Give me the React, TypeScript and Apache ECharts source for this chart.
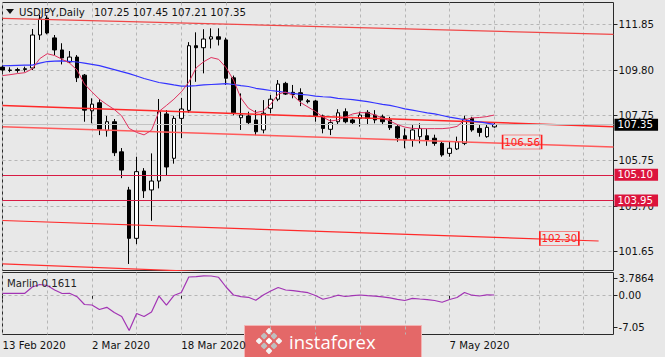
import { useEffect, useRef } from "react";
import * as echarts from "echarts";

// ---------- data ----------
const dates = [
  "2020-02-13","2020-02-14","2020-02-17","2020-02-18","2020-02-19","2020-02-20","2020-02-21","2020-02-24","2020-02-25","2020-02-26","2020-02-27","2020-02-28",
  "2020-03-02","2020-03-03","2020-03-04","2020-03-05","2020-03-06","2020-03-09","2020-03-10","2020-03-11","2020-03-12","2020-03-13","2020-03-16","2020-03-17","2020-03-18","2020-03-19","2020-03-20","2020-03-23","2020-03-24","2020-03-25","2020-03-26","2020-03-27","2020-03-30","2020-03-31",
  "2020-04-01","2020-04-02","2020-04-03","2020-04-06","2020-04-07","2020-04-08","2020-04-09","2020-04-10","2020-04-13","2020-04-14","2020-04-15","2020-04-16","2020-04-17","2020-04-20","2020-04-21","2020-04-22","2020-04-23","2020-04-24","2020-04-27","2020-04-28","2020-04-29","2020-04-30",
  "2020-05-01","2020-05-04","2020-05-05","2020-05-06","2020-05-07","2020-05-08","2020-05-11","2020-05-12","2020-05-13","2020-05-14","2020-05-15",
];
const futureDates = [
  "2020-05-18","2020-05-19","2020-05-20","2020-05-21","2020-05-22","2020-05-25","2020-05-26","2020-05-27","2020-05-28","2020-05-29",
  "2020-06-01","2020-06-02","2020-06-03","2020-06-04","2020-06-05","2020-06-08",
];
const labelDates = ["2020-02-13", "2020-03-02", "2020-03-18", "2020-05-07"];

const opens = [
  109.93,109.80,109.78,109.82,109.89,111.37,112.13,111.24,110.70,110.16,110.38,109.57,
  107.97,108.33,107.08,107.48,106.13,104.42,102.25,105.27,104.42,104.82,107.83,105.84,107.63,107.99,110.89,110.80,111.19,111.29,111.15,109.45,107.66,107.74,
  107.56,107.11,108.08,108.49,109.20,108.80,108.78,108.42,108.41,107.74,107.14,107.48,107.93,107.56,107.63,107.90,107.78,107.70,107.56,107.26,106.85,106.66,
  106.81,106.85,106.74,106.51,106.06,106.26,106.51,107.63,107.18,106.81,107.25,
];
const highs = [
  110.00,109.92,109.90,109.95,111.64,112.27,112.25,111.37,111.00,110.65,110.47,109.62,
  108.53,108.50,107.74,107.60,106.30,104.56,105.91,105.40,106.06,108.50,108.00,107.74,108.55,111.05,111.49,111.63,111.67,111.67,111.25,109.55,108.75,107.93,
  108.00,108.45,108.68,109.35,109.27,109.13,108.98,108.50,108.45,107.80,107.59,108.04,108.08,107.62,107.93,108.00,108.00,107.80,107.70,107.33,107.18,107.33,
  107.41,107.15,106.90,106.60,106.58,106.81,107.75,107.70,107.33,107.36,107.45,
];
const lows = [
  109.72,109.70,109.68,109.72,109.80,111.15,111.40,110.47,110.05,110.11,109.26,107.48,
  107.41,106.88,106.81,105.94,104.95,101.10,101.99,104.06,103.04,104.49,105.09,105.60,106.74,107.88,109.27,109.65,110.77,110.90,109.13,107.77,107.11,107.33,
  106.88,106.96,107.86,108.40,108.68,108.53,108.18,108.30,107.48,106.96,106.88,107.33,107.41,107.37,107.26,107.33,107.41,107.33,107.11,106.58,106.29,106.36,
  106.51,106.40,106.40,105.91,105.91,106.21,106.43,107.03,106.81,106.76,107.21,
];
const closes = [
  109.80,109.78,109.82,109.86,111.37,112.09,111.46,110.70,110.34,110.38,109.45,108.00,
  108.27,107.14,107.48,106.09,105.31,102.25,105.24,104.38,104.82,107.93,105.45,107.63,108.05,110.89,110.80,111.19,111.29,111.18,109.43,107.88,107.78,107.44,
  107.03,107.86,108.49,109.17,108.72,108.70,108.45,108.38,107.75,107.18,107.44,107.88,107.48,107.44,107.78,107.63,107.56,107.48,107.21,106.76,106.66,107.11,
  107.18,106.66,106.51,105.99,106.29,106.58,107.60,107.11,107.00,107.23,107.35,
];

// blue (slow) and crimson (fast) moving averages
const maSlow = [
  109.99,110.00,110.01,110.02,110.02,110.11,110.18,110.20,110.21,110.19,
  110.16,110.11,110.05,110.00,109.91,109.82,109.73,109.64,109.53,109.42,
  109.33,109.24,109.19,109.13,109.08,109.08,109.10,109.13,109.15,109.17,
  109.19,109.15,109.10,109.06,108.98,108.93,108.88,108.84,108.79,108.75,
  108.71,108.68,108.63,108.60,108.58,108.53,108.50,108.47,108.43,108.38,
  108.32,108.26,108.21,108.14,108.06,108.00,107.94,107.88,107.83,107.76,
  107.69,107.63,107.57,107.51,107.47,107.42,107.36,
];
const maFast = [
  109.55,109.59,109.64,109.68,109.85,110.31,110.53,110.45,110.28,110.11,
  109.80,109.17,108.82,108.49,108.25,108.03,107.74,107.18,107.00,106.89,
  107.10,107.94,108.21,108.49,108.82,109.25,109.90,110.17,110.36,110.28,
  109.91,109.35,108.54,108.09,107.89,107.96,108.27,108.72,108.81,108.66,
  108.34,108.14,107.94,107.69,107.51,107.56,107.69,107.83,107.89,107.88,
  107.78,107.65,107.51,107.35,107.24,107.18,107.17,107.17,107.17,107.17,
  107.20,107.27,107.56,107.65,107.67,107.71,107.78,
];
const marlin = [
  0.54,0.54,0.54,0.54,1.94,2.50,2.28,1.27,0.49,0.54,
  -0.22,-1.96,-2.08,-3.08,-2.59,-3.75,-4.64,-7.77,-3.97,-4.64,
  -3.64,-0.07,-2.08,0.04,0.71,4.17,4.24,4.44,4.40,4.11,
  1.94,0.16,-0.22,-0.36,-1.03,0.16,1.05,1.83,1.27,1.12,
  0.89,0.67,0.04,-0.80,-0.40,0.11,-0.18,0.00,0.16,0.02,
  -0.09,-0.25,-0.47,-0.83,-1.07,-0.58,-0.74,-0.89,-1.07,-1.47,
  -0.85,-0.40,0.71,0.11,-0.07,0.20,0.1611,
];
const marlinLast = "0.1611";

const priceTicks = [101.65, 103.7, 105.75, 107.75, 109.8, 111.85];
const marlinTicks = [-7.05, 0, 3.7864];
const levelLines = [105.1, 103.95];
// channel lines: [startIndex, startPrice, endIndex, endPrice]
const channels = [
  [0, 112.12, 82, 111.4],
  [0, 108.21, 82, 107.26],
  [0, 107.26, 82, 106.35],
  [0, 103.05, 80, 102.13],
  [0, 101.1, 82, 100.05],
];
const priceTags = [
  { channel: 2, text: "106.56", index: 70, price: 106.57 },
  { channel: 3, text: "102.30", index: 75, price: 102.24 },
];

// ---------- styling ----------
const BG = "#e8e8e8";
const FONT = "'DejaVu Sans Condensed', 'Liberation Sans', sans-serif";
const FS = 11.3;
const INK = "#111";
const GRIDLINE = { color: "#b6b6b6", type: [3, 3] as any, width: 1 };
const channelColors = ["#f04848", "#ff2828", "#ff5a5a", "#ff2a2a", "#ff3030"];
const channelWidths = [1.3, 1.5, 1.5, 1.2, 1.2];
const LEVEL = "#d81b44";
const MONTHS = ["Jan","Feb","Mar","Apr","May","Jun","Jul","Aug","Sep","Oct","Nov","Dec"];

const cats = [...dates, ...futureDates];
const bid = closes[closes.length - 1];
const isLabelIdx = (i: number) => labelDates.includes(cats[i]);
const fmtDate = (s: string) => {
  const [y, m, d] = s.split("-");
  return `${parseInt(d, 10)} ${MONTHS[parseInt(m, 10) - 1]} ${y}`;
};
const f2 = (v: number) => v.toFixed(2);

function buildOption(): any {
  const priceLabel = (bg: string) => ({
    show: true,
    position: "end",
    distance: 1,
    formatter: (p: any) => f2(Number(p.value)),
    color: "#fff",
    backgroundColor: bg,
    padding: [1, 5, 0, 3],
    fontFamily: FONT,
    fontSize: FS,
  });

  const channelSeries = channels.map((c, k) => {
    const tags = priceTags.filter((t) => t.channel === k);
    return {
      type: "line",
      xAxisIndex: 0,
      yAxisIndex: 0,
      symbol: "none",
      silent: true,
      z: 4,
      data: [
        [c[0], c[1]],
        [c[2], c[3]],
      ],
      lineStyle: { color: channelColors[k], width: channelWidths[k] },
      markPoint: tags.length
        ? {
            silent: true,
            symbol: "rect",
            symbolSize: [39, 14],
            symbolOffset: [-2, 0],
            itemStyle: { color: "rgba(0,0,0,0)", borderColor: "#ff2020", borderWidth: 1 },
            label: {
              show: true,
              position: "inside",
              formatter: tags[0].text,
              color: "#ff2020",
              fontFamily: FONT,
              fontSize: FS,
            },
            data: tags.map((t) => ({ coord: [t.index, t.price] })),
          }
        : undefined,
    };
  });

  const last = opens.length - 1;
  return {
    animation: false,
    backgroundColor: BG,
    textStyle: { fontFamily: FONT },
    grid: [
      { left: 2.5, top: 2.5, width: 611, height: 268, show: true, borderColor: "#2a2a2a", borderWidth: 1, backgroundColor: "transparent", containLabel: false, outerBoundsMode: "none" },
      { left: 2.5, top: 272.5, width: 611, height: 62, show: true, borderColor: "#2a2a2a", borderWidth: 1, backgroundColor: "transparent", containLabel: false, outerBoundsMode: "none" },
    ],
    xAxis: [
      {
        gridIndex: 0,
        type: "category",
        data: cats,
        boundaryGap: false,
        axisLine: { show: false },
        axisTick: { show: false },
        axisLabel: { show: false },
        splitLine: { show: true, interval: (i: number) => i % 6 === 0, lineStyle: GRIDLINE },
      },
      {
        gridIndex: 1,
        type: "category",
        data: cats,
        boundaryGap: false,
        axisLine: { show: false },
        axisTick: { show: true, interval: (i: number) => isLabelIdx(i), length: 3, lineStyle: { color: "#222" } },
        axisLabel: {
          show: true,
          interval: (i: number) => isLabelIdx(i),
          formatter: (v: string) => fmtDate(v),
          align: "left",
          margin: 5,
          color: INK,
          fontFamily: FONT,
          fontSize: FS,
          hideOverlap: false,
        },
        splitLine: { show: true, interval: (i: number) => i % 6 === 0, lineStyle: GRIDLINE },
      },
    ],
    yAxis: [
      {
        gridIndex: 0,
        type: "value",
        position: "right",
        min: 100.807,
        max: 112.828,
        scale: true,
        axisLine: { show: false },
        axisTick: { show: true, length: 4, customValues: priceTicks, lineStyle: { color: "#222" } },
        axisLabel: { customValues: priceTicks, formatter: (v: number) => f2(v), margin: 5, color: INK, fontFamily: FONT, fontSize: FS, showMinLabel: true, showMaxLabel: true },
        splitLine: { show: true, lineStyle: GRIDLINE },
      },
      {
        gridIndex: 1,
        type: "value",
        position: "right",
        min: -8.656,
        max: 5.176,
        axisLine: { show: false },
        axisTick: { show: true, length: 4, customValues: marlinTicks, lineStyle: { color: "#222" } },
        axisLabel: {
          customValues: marlinTicks,
          formatter: (v: number) => (v === 0 ? "0.00" : String(v)),
          margin: 5,
          color: INK,
          fontFamily: FONT,
          fontSize: FS,
        },
        splitLine: { show: false },
      },
    ],
    series: [
      {
        type: "candlestick",
        xAxisIndex: 0,
        yAxisIndex: 0,
        z: 3,
        barWidth: 4,
        silent: true,
        data: opens.map((o, i) => [o, closes[i], lows[i], highs[i]]),
        itemStyle: { color: "#ffffff", color0: "#000000", borderColor: "#000000", borderColor0: "#000000", borderWidth: 1 },
        markLine: {
          silent: true,
          symbol: ["none", "none"],
          data: [
            { yAxis: bid, lineStyle: { color: "#c2c2c2", type: "solid", width: 1 }, label: priceLabel("#000000") },
            ...levelLines.map((v) => ({ yAxis: v, lineStyle: { color: LEVEL, type: "solid", width: 1 }, label: priceLabel("#dc143c") })),
          ],
        },
      },
      ...channelSeries,
      {
        type: "line",
        xAxisIndex: 0,
        yAxisIndex: 0,
        data: maSlow,
        symbol: "none",
        silent: true,
        z: 5,
        lineStyle: { color: "#3434ff", width: 1.2 },
      },
      {
        type: "line",
        xAxisIndex: 0,
        yAxisIndex: 0,
        data: maFast,
        symbol: "none",
        silent: true,
        z: 5,
        lineStyle: { color: "#e0305e", width: 1 },
      },
      {
        type: "line",
        xAxisIndex: 1,
        yAxisIndex: 1,
        data: marlin,
        symbol: "none",
        silent: true,
        z: 5,
        lineStyle: { color: "#a234b4", width: 1.2 },
        markLine: {
          silent: true,
          symbol: ["none", "none"],
          label: { show: false },
          data: [{ yAxis: 0 }],
          lineStyle: { color: "#b6b6b6", type: [3, 3], width: 1 },
        },
      },
    ],
    graphic: [
      { type: "polygon", shape: { points: [[6, 9], [14, 9], [10, 14]] }, style: { fill: "#111" }, z: 10 },
      {
        type: "text",
        x: 19,
        y: 12,
        z: 10,
        style: { text: "USDJPY,Daily", fill: INK, fontFamily: FONT, fontSize: FS, verticalAlign: "middle", textVerticalAlign: "middle" },
      },
      {
        type: "text",
        x: 94,
        y: 12,
        z: 10,
        style: {
          text: [opens[last], highs[last], lows[last], closes[last]].map(f2).join(" "),
          fill: INK,
          fontFamily: FONT,
          fontSize: FS,
          verticalAlign: "middle",
          textVerticalAlign: "middle",
        },
      },
      {
        type: "text",
        x: 7,
        y: 283,
        z: 10,
        style: { text: `Marlin ${marlinLast}`, fill: "#222", fontFamily: FONT, fontSize: FS, verticalAlign: "middle", textVerticalAlign: "middle" },
      },
      {
        type: "group",
        z: 20,
        children: [
          { type: "rect", shape: { x: 244.5, y: 325.5, width: 177, height: 34 }, style: { fill: "#e46868", stroke: "#f3b3b3", lineWidth: 1 } },
          {
            type: "group",
            x: 269,
            y: 341,
            rotation: Math.PI / 4,
            children: [
              [-7, -7, "#f2f2f2"], [0, -7, "#bfbfbf"], [7, -7, "#f2f2f2"],
              [-7, 0, "#bfbfbf"], [0, 0, "#ffffff"], [7, 0, "#bfbfbf"],
              [-7, 7, "#f2f2f2"], [0, 7, "#bfbfbf"], [7, 7, "#f2f2f2"],
            ].map((s: any) => ({
              type: "rect",
              shape: { x: s[0] - 2.5, y: s[1] - 2.5, width: 5, height: 5, r: 1 },
              style: { fill: s[2] },
            })),
          },
          {
            type: "text",
            x: 289,
            y: 341,
            style: { text: "instaforex", fill: "#ffffff", fontFamily: "'Open Sans', 'Liberation Sans', sans-serif", fontSize: 18.5, verticalAlign: "middle", textVerticalAlign: "middle" },
          },
        ],
      },
    ],
  };
}

export default function App() {
  const ref = useRef<HTMLDivElement>(null);
  useEffect(() => {
    if (!ref.current) return;
    const chart = echarts.init(ref.current, null, { renderer: "svg" });
    chart.setOption(buildOption());
    return () => chart.dispose();
  }, []);
  return (
    <div style={{ position: "fixed", left: 0, top: 0, width: 665, height: 357, background: BG, overflow: "hidden" }}>
      <div ref={ref} style={{ width: 665, height: 357 }} />
    </div>
  );
}
